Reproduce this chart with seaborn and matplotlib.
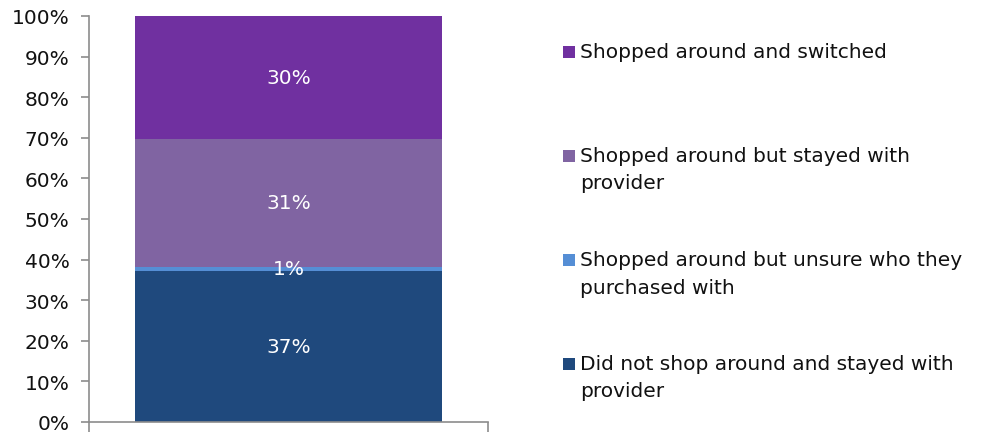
import matplotlib
matplotlib.use("Agg")
import matplotlib.pyplot as plt
from matplotlib.patches import Rectangle
from matplotlib.ticker import PercentFormatter
import numpy as np
import pandas as pd
import seaborn as sns

# Survey answers, bottom segment first (shares of respondents)
categories = [
    "Did not shop around and stayed with\nprovider",
    "Shopped around but unsure who they\npurchased with",
    "Shopped around but stayed with\nprovider",
    "Shopped around and switched",
]
shares = [0.373, 0.010, 0.314, 0.303]
colors = ["#1F497D", "#558ED5", "#8064A2", "#7030A0"]
group = ["All respondents"]

sns.set_theme(style="white")
plt.rcParams["font.family"] = ["DejaVu Sans"]

fig = plt.figure(figsize=(9.92, 4.35), dpi=100)
ax = fig.add_axes([89 / 992, 1 - 423 / 435, (488 - 89) / 992, (423 - 17) / 435])

# Stacked bar: draw cumulative totals from the tallest down so each layer shows
tops = np.cumsum(shares)
bottoms = tops - np.array(shares)
for i in range(len(shares) - 1, -1, -1):
    df = pd.DataFrame({"group": group, "value": [tops[i]]})
    sns.barplot(data=df, x="group", y="value", color=colors[i], width=0.77,
                saturation=1, ax=ax, edgecolor="none", linewidth=0)

# Segment value labels
for b, s in zip(bottoms, shares):
    ax.text(0, b + s / 2, f"{s * 100:.0f}%", ha="center", va="center",
            color="white", fontsize=14.5)

ax.set_xlim(-0.5, 0.5)
ax.set_ylim(0, 1)
ax.set_yticks(np.arange(0, 1.01, 0.1))
ax.yaxis.set_major_formatter(PercentFormatter(1.0, decimals=0))
ax.set_xticks([-0.5, 0.5])
ax.set_xticklabels(["", ""])
ax.set_xlabel("")
ax.set_ylabel("")

spine_col = "#8C8C8C"
for side in ["top", "right"]:
    ax.spines[side].set_visible(False)
for side in ["left", "bottom"]:
    ax.spines[side].set_color(spine_col)
    ax.spines[side].set_linewidth(1.2)
ax.tick_params(axis="y", which="major", direction="out", length=6, width=1.2,
               color=spine_col, labelsize=14.5, labelcolor="#111111", pad=8, left=True)
ax.tick_params(axis="x", which="major", direction="out", length=7, width=1.2,
               color=spine_col, bottom=True)

# Legend, top entry first, handle aligned with the first text line
W, H = 992, 435
first_line_y = [365, 261, 157, 53]
for label, col, y in zip(categories, colors, first_line_y):
    fig.patches.append(Rectangle((563 / W, 1 - (y + 6) / H), 12 / W, 12 / H,
                                 transform=fig.transFigure, facecolor=col,
                                 edgecolor="none"))
    for k, line in enumerate(label.split("\n")):
        fig.text(580 / W, 1 - (y + 27 * k) / H, line, ha="left", va="center",
                 fontsize=14.5, color="#111111")

fig.savefig("out.png", dpi=100)
